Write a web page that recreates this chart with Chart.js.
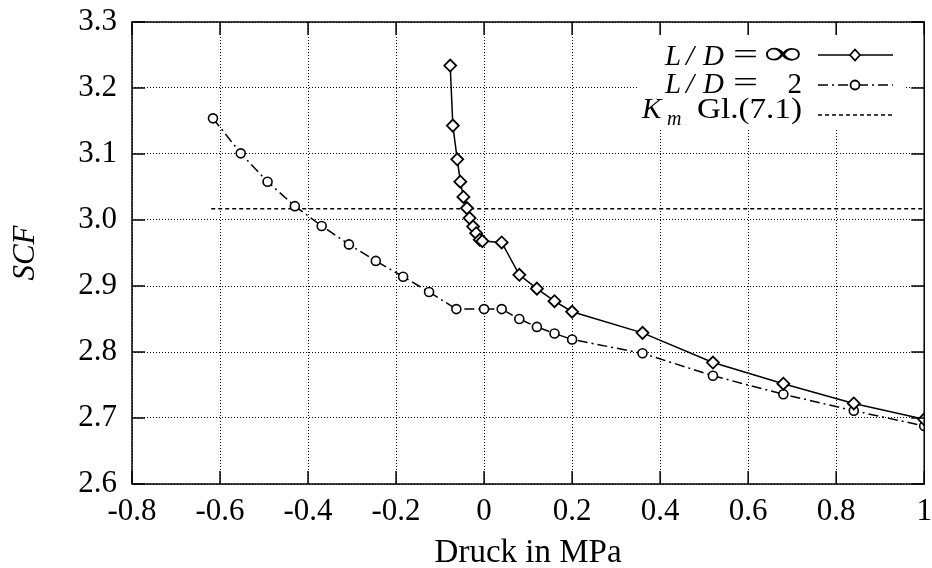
<!DOCTYPE html>
<html>
<head>
<meta charset="utf-8">
<script src="https://cdn.jsdelivr.net/npm/chart.js@4/dist/chart.umd.min.js"></script>
<style>
  body { margin: 0; background: #fff; }
  #wrap { width: 932px; height: 568px; }
</style>
</head>
<body>
<div id="wrap"><canvas id="myChart" width="932" height="568"></canvas></div>
<script>
// L/D = unendlich (Rauten)
let infX = [-0.077, -0.071, -0.061, -0.054, -0.047, -0.039, -0.033, -0.025, -0.018, -0.010, -0.004, 0.04, 0.08, 0.12, 0.16, 0.2, 0.36, 0.52, 0.68, 0.84, 1.0]
let infY = [3.234, 3.143, 3.092, 3.058, 3.035, 3.018, 3.003, 2.990, 2.980, 2.970, 2.968, 2.966, 2.917, 2.896, 2.877, 2.861, 2.829, 2.784, 2.752, 2.722, 2.698]

// L/D = 2 (Kreise)
let twoX = [-0.616, -0.553, -0.492, -0.430, -0.369, -0.307, -0.246, -0.184, -0.125, -0.063, 0.0, 0.04, 0.08, 0.12, 0.16, 0.2, 0.36, 0.52, 0.68, 0.84, 1.0]
let twoY = [3.154, 3.101, 3.058, 3.021, 2.991, 2.963, 2.938, 2.914, 2.891, 2.865, 2.865, 2.865, 2.850, 2.838, 2.828, 2.819, 2.798, 2.764, 2.736, 2.711, 2.688]

// K_m nach Gl.(7.1)
let kmX = [-0.62, 1.0]
let kmY = [3.017, 3.017]

let xTicks = [-0.8, -0.6, -0.4, -0.2, 0, 0.2, 0.4, 0.6, 0.8, 1]
let yTicks = [2.6, 2.7, 2.8, 2.9, 3.0, 3.1, 3.2, 3.3]

let serif = "'Liberation Serif', 'DejaVu Serif', serif"

function toPoints(xs, ys){
    let pts = []
    for (var i in xs){
        pts.push({x: xs[i], y: ys[i]})
    }
    return pts
}

function xLabel(v){
    if (Math.abs(v) < 1e-9) return "0"
    if (Math.abs(v - 1) < 1e-9) return "1"
    return v.toFixed(1)
}

// Text horizontal auf eine Breite ziehen (TeX-Schrift ist breiter)
function stretchText(ctx, text, x0, x1, y){
    let w = ctx.measureText(text).width
    ctx.save()
    ctx.translate(x0, y)
    ctx.scale((x1 - x0) / w, 1)
    ctx.textAlign = "left"
    ctx.fillText(text, 0, 0)
    ctx.restore()
}

// Rahmen, Ticks nach innen und Legende
const boxPlugin = {
    id: "boxPlugin",
    afterDraw(chart){
        const ctx = chart.ctx
        const a = chart.chartArea
        const xs = chart.scales.x
        const ys = chart.scales.y

        ctx.save()
        // Legendenhintergrund
        ctx.fillStyle = "#fff"
        ctx.fillRect(637, 33, 268, 95)

        ctx.strokeStyle = "#000"
        ctx.lineWidth = 1.5
        ctx.beginPath()
        xTicks.forEach(t => {
            let px = xs.getPixelForValue(t)
            ctx.moveTo(px, a.bottom); ctx.lineTo(px, a.bottom - 13)
            ctx.moveTo(px, a.top); ctx.lineTo(px, a.top + 13)
        })
        yTicks.forEach(t => {
            let py = ys.getPixelForValue(t)
            ctx.moveTo(a.left, py); ctx.lineTo(a.left + 13, py)
            ctx.moveTo(a.right, py); ctx.lineTo(a.right - 13, py)
        })
        ctx.stroke()
        ctx.strokeRect(a.left, a.top, a.right - a.left, a.bottom - a.top)

        // Legende
        ctx.fillStyle = "#000"
        ctx.textBaseline = "alphabetic"
        ctx.textAlign = "left"
        let rows = [65, 93, 118]

        ctx.font = "italic 29px " + serif
        for (let r = 0; r < 2; r++){
            ctx.fillText("L", 665, rows[r])
            ctx.fillText("/", 686, rows[r])
            ctx.fillText("D", 703, rows[r])
        }
        ctx.fillText("K", 642, rows[2])
        ctx.font = "italic 20px " + serif
        ctx.fillText("m", 667, rows[2] + 7)

        ctx.font = "29px " + serif
        stretchText(ctx, "=", 733, 758, rows[0] - 1)
        stretchText(ctx, "=", 733, 758, rows[1] - 1)
        ctx.textAlign = "right"
        ctx.fillText("2", 802, rows[1])
        ctx.textAlign = "left"
        stretchText(ctx, "Gl.(7.1)", 697, 802, rows[2])
        ctx.font = "34px " + serif
        stretchText(ctx, "\u221E", 764, 802, rows[0] - 1)

        // Linienmuster
        let lines = [55, 85, 115]
        ctx.lineWidth = 1.5
        ctx.beginPath()
        ctx.setLineDash([])
        ctx.moveTo(818, lines[0]); ctx.lineTo(893, lines[0])
        ctx.stroke()
        ctx.beginPath()
        ctx.setLineDash([10, 4, 2, 4])
        ctx.moveTo(818, lines[1]); ctx.lineTo(893, lines[1])
        ctx.stroke()
        ctx.beginPath()
        ctx.setLineDash([4, 3])
        ctx.moveTo(818, lines[2]); ctx.lineTo(893, lines[2])
        ctx.stroke()
        ctx.setLineDash([])

        // Symbole
        ctx.fillStyle = "#fff"
        ctx.lineWidth = 1.8
        ctx.beginPath()
        let cx = 855, cy = lines[0]
        ctx.moveTo(cx, cy - 5.5); ctx.lineTo(cx + 5, cy); ctx.lineTo(cx, cy + 5.5); ctx.lineTo(cx - 5, cy); ctx.closePath()
        ctx.fill(); ctx.stroke()
        ctx.beginPath()
        ctx.arc(855, lines[1], 4.5, 0, Math.PI * 2)
        ctx.fill(); ctx.stroke()
        ctx.restore()
    }
}

function showGraph(){
    console.log("trigger showGraph")
    new Chart("myChart", {
        type: "scatter",
        data: {
            datasets: [{
                label: "L/D = \u221E",
                data: toPoints(infX, infY),
                showLine: true,
                borderColor: "#000",
                borderWidth: 1.5,
                pointStyle: "rectRot",
                pointRadius: 6,
                pointBorderWidth: 1.8,
                pointBackgroundColor: "#fff",
                pointBorderColor: "#000"
            }, {
                label: "L/D = 2",
                data: toPoints(twoX, twoY),
                showLine: true,
                borderColor: "#000",
                borderWidth: 1.5,
                borderDash: [10, 4, 2, 4],
                pointStyle: "circle",
                pointRadius: 4.5,
                pointBorderWidth: 1.6,
                pointBackgroundColor: "#fff",
                pointBorderColor: "#000"
            }, {
                label: "K_m Gl.(7.1)",
                data: toPoints(kmX, kmY),
                showLine: true,
                borderColor: "#000",
                borderWidth: 1.5,
                borderDash: [4, 3],
                pointRadius: 0
            }]
        },
        options: {
            responsive: false,
            animation: false,
            layout: { padding: { top: 22, right: 7, left: 0, bottom: 0 } },
            plugins: {
                legend: { display: false },
                tooltip: { enabled: false }
            },
            scales: {
                x: {
                    type: "linear",
                    min: -0.8,
                    max: 1.0,
                    afterFit: s => { s.height = 84; s.paddingLeft = 0; s.paddingRight = 0 },
                    afterBuildTicks: s => { s.ticks = xTicks.map(v => ({value: v})) },
                    grid: { color: "#000", lineWidth: 1, drawTicks: false },
                    border: { display: false, dash: [1, 2] },
                    ticks: {
                        color: "#000",
                        font: { family: serif, size: 31 },
                        padding: 9,
                        maxRotation: 0,
                        callback: v => xLabel(v)
                    },
                    title: {
                        display: true,
                        text: "Druck in MPa",
                        color: "#000",
                        font: { family: serif, size: 33, lineHeight: 1 },
                        padding: { top: 0, bottom: -2 }
                    }
                },
                y: {
                    min: 2.6,
                    max: 3.3,
                    afterFit: s => { s.width = 132; s.paddingTop = 0; s.paddingBottom = 0 },
                    afterBuildTicks: s => { s.ticks = yTicks.map(v => ({value: v})) },
                    grid: { color: "#000", lineWidth: 1, drawTicks: false },
                    border: { display: false, dash: [1, 2] },
                    ticks: {
                        color: "#000",
                        font: { family: serif, size: 31 },
                        padding: 15,
                        callback: v => v.toFixed(1)
                    },
                    title: {
                        display: true,
                        text: "SCF",
                        color: "#000",
                        font: { family: serif, size: 31, style: "italic", lineHeight: 1 },
                        padding: { top: 10, bottom: 0 }
                    }
                }
            }
        },
        plugins: [boxPlugin]
    })
}

showGraph()
</script>
</body>
</html>
